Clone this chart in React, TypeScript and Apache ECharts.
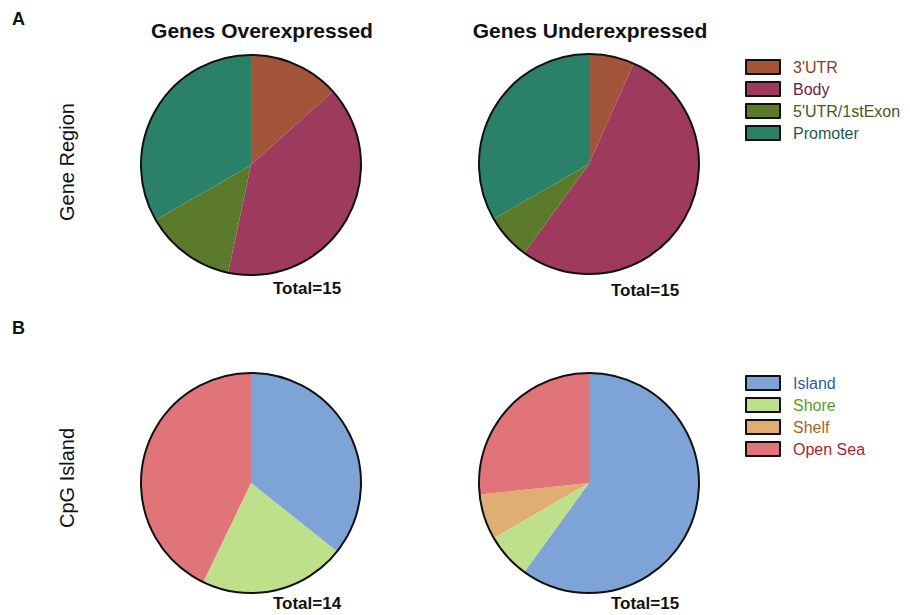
import React, { useEffect, useRef } from "react";
import * as echarts from "echarts";

const regionNames = ["3'UTR", "Body", "5'UTR/1stExon", "Promoter"];
const regionColors = ["#a3553a", "#9d3a5e", "#5c7a2b", "#2b8068"];
const regionTextColors = ["#8e3a1f", "#6e1a48", "#3f5a1c", "#1f5a48"];
const regionOver = [2, 6, 2, 5];
const regionUnder = [1, 8, 1, 5];

const cpgNames = ["Island", "Shore", "Shelf", "Open Sea"];
const cpgColors = ["#7ea3d6", "#bfe08a", "#e0ae72", "#e07478"];
const cpgTextColors = ["#2d5aa3", "#5a9a2a", "#a0681e", "#a61f2a"];
const cpgOver = [5, 3, 0, 6];
const cpgUnder = [9, 1, 1, 4];

const columnTitles = ["Genes Overexpressed", "Genes Underexpressed"];
const rowTitles = ["Gene Region", "CpG Island"];
const totals = ["Total=15", "Total=15", "Total=14", "Total=15"];

const FONT = "'Liberation Sans', Arial, Helvetica, sans-serif";

export default function App() {
  const ref = useRef<HTMLDivElement>(null);
  useEffect(() => {
    if (!ref.current) return;
    const chart = echarts.init(ref.current, null, { renderer: "svg" });
    const R = 110;
    const centers = [
      [251, 165],
      [589, 164],
      [251, 483],
      [589, 483],
    ];
    const pieSeries = (
      id: string,
      center: number[],
      names: string[],
      colors: string[],
      values: number[]
    ) => ({
      type: "pie",
      name: id,
      center,
      radius: [0, R],
      startAngle: 90,
      clockwise: true,
      label: { show: false },
      labelLine: { show: false },
      emphasis: { disabled: true },
      stillShowZeroSum: true,
      itemStyle: { borderWidth: 0 },
      data: names.map((n, i) => ({
        name: n,
        value: values[i],
        itemStyle: { color: colors[i] },
      })),
    });
    const outline = (center: number[]) => ({
      type: "pie",
      silent: true,
      center,
      radius: [0, R],
      label: { show: false },
      labelLine: { show: false },
      emphasis: { disabled: true },
      itemStyle: { color: "rgba(0,0,0,0)", borderColor: "#111", borderWidth: 2 },
      data: [{ name: "__outline", value: 1 }],
      z: 5,
    });
    const legend = (top: number, names: string[], textColors: string[]) => ({
      orient: "vertical",
      left: 740,
      top,
      itemWidth: 34,
      itemHeight: 14,
      itemGap: 6,
      icon: "rect",
      selectedMode: false,
      itemStyle: { borderColor: "#111", borderWidth: 2 },
      textStyle: { fontFamily: FONT, fontSize: 16, padding: [0, 0, 0, 8] },
      data: names.map((n, i) => ({ name: n, textStyle: { color: textColors[i] } })),
    });
    const text = (
      x: number,
      y: number,
      t: string,
      size: number,
      weight: string,
      align = "center",
      rotation = 0
    ) => ({
      type: "text",
      x,
      y,
      rotation,
      style: {
        text: t,
        fontFamily: FONT,
        fontSize: size,
        fontWeight: weight,
        fill: "#111",
        textAlign: align,
        textVerticalAlign: "middle",
      },
    });
    chart.setOption({
      animation: false,
      backgroundColor: "#fff",
      legend: [
        legend(54, regionNames, regionTextColors),
        legend(370, cpgNames, cpgTextColors),
      ],
      series: [
        pieSeries("over-region", centers[0], regionNames, regionColors, regionOver),
        pieSeries("under-region", centers[1], regionNames, regionColors, regionUnder),
        pieSeries("over-cpg", centers[2], cpgNames, cpgColors, cpgOver),
        pieSeries("under-cpg", centers[3], cpgNames, cpgColors, cpgUnder),
        ...centers.map((c) => outline(c)),
      ],
      graphic: [
        text(12, 19, "A", 18, "bold", "left"),
        text(12, 328, "B", 18, "bold", "left"),
        text(262, 30, columnTitles[0], 21, "bold"),
        text(590, 30, columnTitles[1], 21, "bold"),
        text(67, 162, rowTitles[0], 20, "normal", "center", Math.PI / 2),
        text(67, 478, rowTitles[1], 20, "normal", "center", Math.PI / 2),
        text(307, 288, totals[0], 17, "bold"),
        text(645, 290, totals[1], 17, "bold"),
        text(307, 603, totals[2], 17, "bold"),
        text(645, 603, totals[3], 17, "bold"),
      ],
    });
    return () => chart.dispose();
  }, []);
  return (
    <div
      ref={ref}
      style={{ position: "fixed", left: 0, top: 0, width: 910, height: 615 }}
    />
  );
}
